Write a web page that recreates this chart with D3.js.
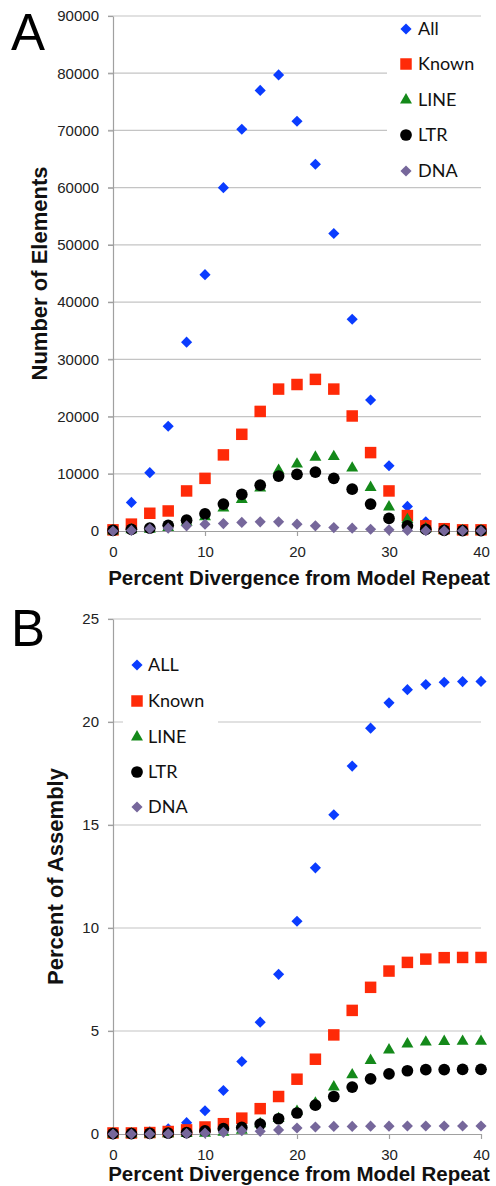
<!DOCTYPE html>
<html>
<head>
<meta charset="utf-8">
<script src="https://cdn.jsdelivr.net/npm/d3@7.9.0/dist/d3.min.js"></script>
<style>
  body { margin: 0; background: #fff; }
  svg { display: block; }
  .tick text { font-family: 'Liberation Sans', Arial, sans-serif; font-size: 15px; fill: #222; }
  .axis-title { font-family: 'Liberation Sans', Arial, sans-serif; font-weight: bold; fill: #111; }
  .legend text { font-family: Lato, 'Open Sans', sans-serif; font-size: 18px; fill: #111; }
  .panel-label { font-family: 'Liberation Sans', Arial, sans-serif; font-size: 51px; fill: #000; }
</style>
</head>
<body>
<svg id="chart" width="496" height="1186"></svg>
<script>
// percent divergence from model repeat (x for both panels)
const divergence = [0, 2, 4, 6, 8, 10, 12, 14, 16, 18, 20, 22, 24, 26, 28, 30, 32, 34, 36, 38, 40];

// panel A: number of elements
const countAll   = [100, 5000, 10200, 18300, 33000, 44800, 60000, 70200, 77000, 79700, 71600, 64100, 52000, 37000, 22900, 11400, 4300, 1600, 400, 150, 100];
const countKnown = [200, 1200, 3100, 3500, 7000, 9200, 13300, 16900, 20900, 24800, 25600, 26500, 24800, 20100, 13700, 7000, 2700, 900, 400, 200, 200];
const countLINE  = [0, 200, 300, 600, 1500, 2500, 4000, 5500, 7500, 10600, 11700, 12900, 13000, 11000, 7600, 4200, 2000, 400, 100, 50, 50];
const countLTR   = [100, 300, 500, 1000, 1900, 3000, 4700, 6400, 8000, 9600, 9900, 10300, 9200, 7300, 4700, 2200, 900, 300, 100, 50, 50];
const countDNA   = [0, 100, 400, 500, 900, 1200, 1300, 1500, 1600, 1600, 1200, 900, 600, 500, 300, 200, 100, 50, 50, 50, 50];

// panel B: percent of assembly (cumulative)
const pctAll   = [0, 0.05, 0.1, 0.25, 0.55, 1.13, 2.11, 3.52, 5.43, 7.75, 10.33, 12.92, 15.5, 17.86, 19.7, 20.93, 21.57, 21.82, 21.93, 21.96, 21.97];
const pctKnown = [0.05, 0.05, 0.07, 0.12, 0.2, 0.34, 0.5, 0.77, 1.23, 1.82, 2.66, 3.63, 4.81, 6.0, 7.12, 7.91, 8.33, 8.49, 8.56, 8.57, 8.57];
const pctLINE  = [0, 0, 0, 0.01, 0.02, 0.04, 0.08, 0.18, 0.5, 0.75, 1.1, 1.5, 2.28, 2.87, 3.57, 4.08, 4.37, 4.46, 4.49, 4.5, 4.5];
const pctLTR   = [0.02, 0.02, 0.03, 0.04, 0.07, 0.15, 0.26, 0.32, 0.48, 0.74, 1.02, 1.4, 1.82, 2.28, 2.68, 2.92, 3.07, 3.12, 3.13, 3.14, 3.14];
const pctDNA   = [0, 0, 0, 0.01, 0.02, 0.05, 0.08, 0.16, 0.13, 0.2, 0.29, 0.34, 0.37, 0.37, 0.38, 0.38, 0.39, 0.39, 0.39, 0.39, 0.39];

const xTicks = [0, 10, 20, 30, 40];
const yTicksA = [0, 10000, 20000, 30000, 40000, 50000, 60000, 70000, 80000, 90000];
const yTicksB = [0, 5, 10, 15, 20, 25];

const namesA = ['All', 'Known', 'LINE', 'LTR', 'DNA'];
const namesB = ['ALL', 'Known', 'LINE', 'LTR', 'DNA'];

const styles = [
  { color: '#0a3cff', type: 'diamond' },
  { color: '#ff2a08', type: 'square' },
  { color: '#14891a', type: 'triangle' },
  { color: '#000000', type: 'circle' },
  { color: '#76679b', type: 'diamond' },
];

const symbolPath = (type) => {
  if (type === 'square') return d3.symbol(d3.symbolSquare, 132)();
  if (type === 'triangle') return d3.symbol(d3.symbolTriangle, 62)();
  if (type === 'circle') return d3.symbol(d3.symbolCircle, 108)();
  return d3.symbol(d3.symbolSquare, 62)();
};
const symbolRotate = (type) => (type === 'diamond' ? ' rotate(45)' : '');

const svg = d3.select('#chart');

function drawPanel(opts) {
  const { top, bottom, yMax, yTicks, series, names, legend, yTitle, yTitleX, letter, letterY, xTitleY } = opts;
  const x = d3.scaleLinear().domain([0, 40]).range([113, 481]);
  const y = d3.scaleLinear().domain([0, yMax]).range([bottom, top]);
  const g = svg.append('g');

  // gridlines
  g.selectAll('line.grid')
    .data(yTicks.filter((d) => d > 0))
    .join('line')
    .attr('class', 'grid')
    .attr('x1', 108).attr('x2', 481)
    .attr('y1', (d) => y(d)).attr('y2', (d) => y(d))
    .attr('stroke', '#c4c4c4').attr('stroke-width', 1.2);

  // axes
  const yAxis = g.append('g')
    .attr('transform', `translate(113,0)`)
    .call(d3.axisLeft(y).tickValues(yTicks).tickSize(5).tickSizeOuter(0).tickPadding(9).tickFormat(d3.format('d')));
  const xAxis = g.append('g')
    .attr('transform', `translate(0,${bottom})`)
    .call(d3.axisBottom(x).tickValues(xTicks).tickSize(5).tickSizeOuter(0).tickPadding(10).tickFormat(d3.format('d')));
  [yAxis, xAxis].forEach((a) => {
    a.select('.domain').attr('stroke', '#a0a0a0').attr('stroke-width', 1.2);
    a.selectAll('.tick line').attr('stroke', '#a0a0a0').attr('stroke-width', 1.2);
  });

  // legend box (white, hides gridlines)
  g.append('rect')
    .attr('x', legend.box[0]).attr('y', legend.box[1])
    .attr('width', legend.box[2]).attr('height', legend.box[3])
    .attr('fill', '#fff');

  // points
  series.forEach((vals, i) => {
    const s = styles[i];
    g.append('g')
      .selectAll('path')
      .data(vals)
      .join('path')
      .attr('d', symbolPath(s.type))
      .attr('transform', (d, j) => `translate(${x(divergence[j])},${y(d)})${symbolRotate(s.type)}`)
      .attr('fill', s.color);
  });

  // legend entries
  const lg = g.append('g').attr('class', 'legend');
  names.forEach((name, i) => {
    const s = styles[i];
    const cy = legend.rows[i];
    lg.append('path')
      .attr('d', symbolPath(s.type))
      .attr('transform', `translate(${legend.mx},${cy})${symbolRotate(s.type)}`)
      .attr('fill', s.color);
    lg.append('text')
      .attr('x', legend.tx).attr('y', cy)
      .attr('dy', '0.36em')
      .text(name);
  });

  // titles
  g.append('text')
    .attr('class', 'axis-title')
    .attr('x', 299).attr('y', xTitleY)
    .attr('text-anchor', 'middle')
    .style('font-size', '20.5px')
    .text('Percent Divergence from Model Repeat');
  g.append('text')
    .attr('class', 'axis-title')
    .attr('transform', `translate(${yTitleX},${(top + bottom) / 2}) rotate(-90)`)
    .attr('text-anchor', 'middle')
    .style('font-size', '22px')
    .text(yTitle);
  g.append('text')
    .attr('class', 'panel-label')
    .attr('x', 11).attr('y', letterY)
    .text(letter);
}

drawPanel({
  top: 16, bottom: 531, yMax: 90000, yTicks: yTicksA,
  series: [countAll, countKnown, countLINE, countLTR, countDNA],
  names: namesA,
  legend: { box: [387, 20, 100, 160], mx: 406, tx: 418, rows: [29, 64, 100, 135, 171] },
  yTitle: 'Number of Elements', yTitleX: 47,
  letter: 'A', letterY: 50, xTitleY: 585,
});

drawPanel({
  top: 619, bottom: 1134, yMax: 25, yTicks: yTicksB,
  series: [pctAll, pctKnown, pctLINE, pctLTR, pctDNA],
  names: namesB,
  legend: { box: [123, 645, 95, 175], mx: 137, tx: 148, rows: [665, 701, 737, 772, 807] },
  yTitle: 'Percent of Assembly', yTitleX: 63,
  letter: 'B', letterY: 646, xTitleY: 1181,
});
</script>
</body>
</html>
